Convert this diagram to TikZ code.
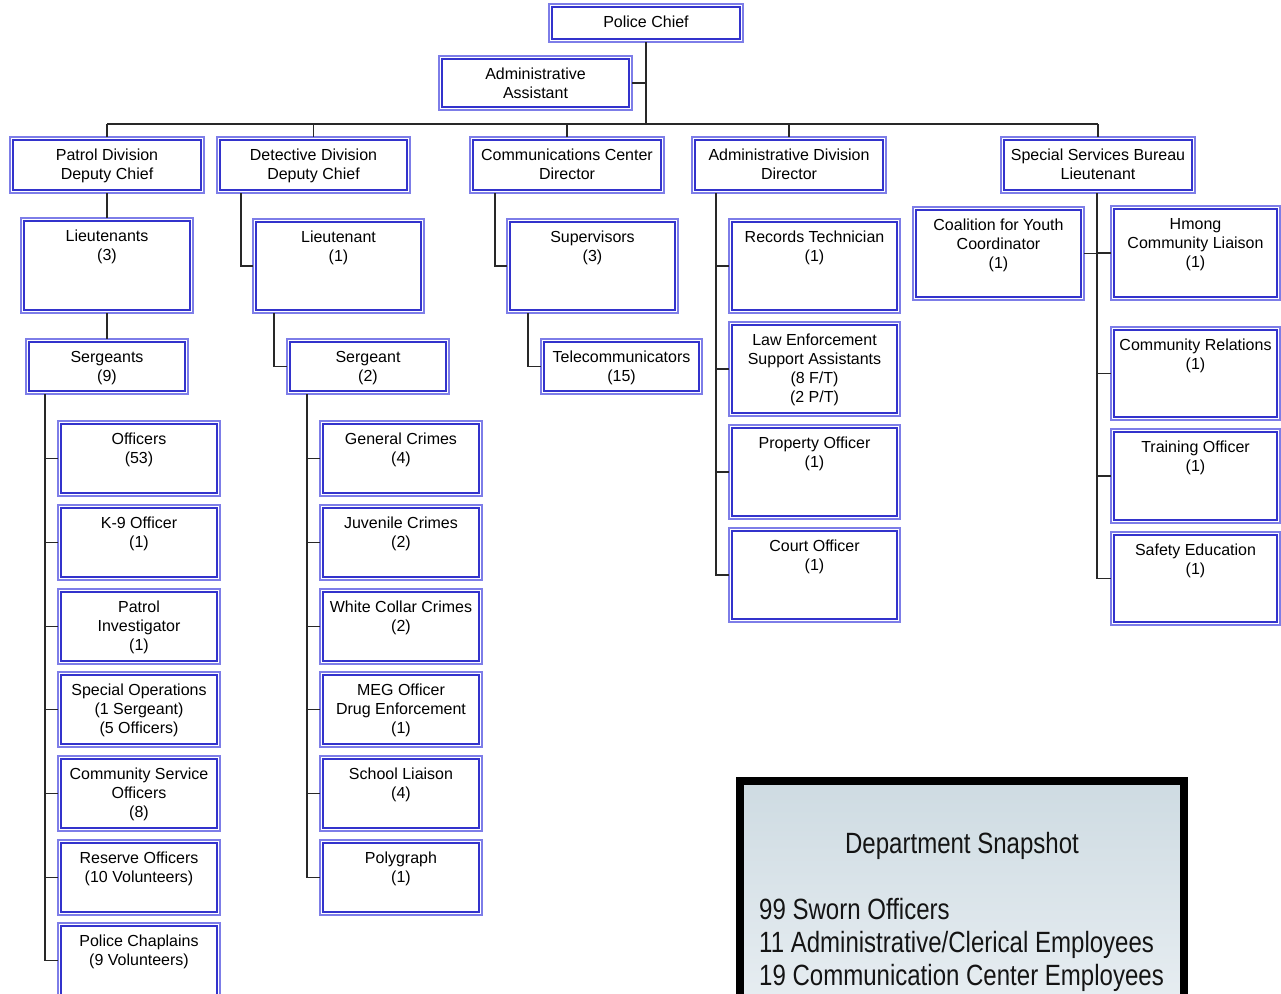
\documentclass[tikz,border=0pt]{standalone}
\usepackage{fontspec}
\setmainfont{Liberation Sans}
\newfontfamily\narrowfont[FakeStretch=0.82]{Liberation Sans}
\definecolor{outerblue}{RGB}{125,125,232}
\definecolor{innerblue}{RGB}{51,51,204}
\definecolor{snaptop}{RGB}{206,219,226}
\definecolor{snapbot}{RGB}{232,238,242}
\definecolor{connc}{RGB}{40,40,40}
\tikzset{
  boxo/.style={draw=outerblue, line width=1.1pt, fill=white, inner sep=0pt, outer sep=0pt, rectangle},
  boxi/.style={draw=innerblue, line width=2.2pt},
  lbl/.style={anchor=north, inner sep=0pt, align=center, font=\fontsize{16}{19}\selectfont, text=black},
  conn/.style={draw=connc, line width=1.2pt},
  snapt/.style={inner sep=0pt, font=\narrowfont\fontsize{29.3}{33}\selectfont, text={rgb,255:red,20;green,20;blue,20}}
}
\newcommand\obox[6]{%
  \node[boxo, minimum width={(#4)-(#2)}, minimum height={(#5)-(#3)}] (#1) at ({((#2)+(#4))/2},{((#3)+(#5))/2}) {};
  \draw[boxi] ([shift={(3,3)}]#1.north west) rectangle ([shift={(-3,-3)}]#1.south east);
  \node[lbl] (#1-t) at ([yshift=-11.2pt]#1.north) {\rule{0pt}{12pt}#6};
}
\begin{document}
\begin{tikzpicture}[x=1pt,y=-1pt]
\useasboundingbox (0,0) rectangle (1281,993);
% top
\obox{pc}{549}{4}{743}{42}{Police Chief}
\obox{aa}{439}{56}{632}{110}{Administrative\\Assistant}
% level 2
\obox{patrol}{10}{137}{204}{193}{Patrol Division\\Deputy Chief}
\obox{det}{217}{137}{410}{193}{Detective Division\\Deputy Chief}
\obox{comm}{470}{137}{664}{193}{Communications Center\\Director}
\obox{adm}{692}{137}{886}{193}{Administrative Division\\Director}
\obox{spec}{1001}{137}{1195}{193}{Special Services Bureau\\Lieutenant}
% patrol
\obox{lts}{21}{218}{193}{313}{Lieutenants\\(3)}
\obox{sgts}{26}{339}{188}{394}{Sergeants\\(9)}
\obox{off}{58}{421}{220}{496}{Officers\\(53)}
\obox{k9}{58}{505}{220}{580}{K-9 Officer\\(1)}
\obox{pinv}{58}{589}{220}{664}{Patrol\\Investigator\\(1)}
\obox{sops}{58}{672}{220}{747}{Special Operations\\(1 Sergeant)\\(5 Officers)}
\obox{cso}{58}{756}{220}{831}{Community Service\\Officers\\(8)}
\obox{res}{58}{840}{220}{915}{Reserve Officers\\(10 Volunteers)}
\obox{chap}{58}{923}{220}{998}{Police Chaplains\\(9 Volunteers)}
% detective
\obox{dlt}{253}{219}{424}{313}{Lieutenant\\(1)}
\obox{dsgt}{287}{339}{449}{394}{Sergeant\\(2)}
\obox{gen}{320}{421}{482}{496}{General Crimes\\(4)}
\obox{juv}{320}{505}{482}{580}{Juvenile Crimes\\(2)}
\obox{wcc}{320}{589}{482}{664}{White Collar Crimes\\(2)}
\obox{meg}{320}{672}{482}{747}{MEG Officer\\Drug Enforcement\\(1)}
\obox{sch}{320}{756}{482}{831}{School Liaison\\(4)}
\obox{poly}{320}{840}{482}{915}{Polygraph\\(1)}
% communications
\obox{sup}{507}{219}{678}{313}{Supervisors\\(3)}
\obox{tel}{541}{339}{702}{394}{Telecommunicators\\(15)}
% administrative
\obox{rec}{729}{219}{900}{313}{Records Technician\\(1)}
\obox{lesa}{729}{322}{900}{416}{Law Enforcement\\Support Assistants\\(8 F/T)\\(2 P/T)}
\obox{prop}{729}{425}{900}{519}{Property Officer\\(1)}
\obox{court}{729}{528}{900}{622}{Court Officer\\(1)}
% special services
\obox{coal}{913}{207}{1084}{300}{Coalition for Youth\\Coordinator\\(1)}
\obox{hmong}{1111}{206}{1280}{300}{Hmong\\Community Liaison\\(1)}
\obox{comrel}{1111}{327}{1280}{420}{Community Relations\\(1)}
\obox{train}{1111}{429}{1280}{523}{Training Officer\\(1)}
\obox{safety}{1111}{532}{1280}{625}{Safety Education\\(1)}
% connectors
\coordinate (bus) at (0,124);
\draw[conn] (pc.south) -- (pc.south |- bus);
\draw[conn] (aa.east) -- (aa.east -| pc.south);
\draw[conn] (patrol.north |- bus) -- (spec.north |- bus);
\foreach \n in {patrol,det,comm,adm,spec}{\draw[conn] (\n.north) -- (\n.north |- bus);}
\draw[conn] (patrol.south) -- (lts.north);
\draw[conn] (lts.south) -- (sgts.north);
\coordinate (pv) at (45,394);
\draw[conn] (pv) |- (chap.west);
\foreach \n in {off,k9,pinv,sops,cso,res}{\draw[conn] (\n.west) -- (\n.west -| pv);}
\coordinate (dv1) at (241,193);
\draw[conn] (dv1) |- (dlt.west);
\coordinate (dv2) at (274,313);
\draw[conn] (dv2) |- (dsgt.west);
\coordinate (dv3) at (307,394);
\draw[conn] (dv3) |- (poly.west);
\foreach \n in {gen,juv,wcc,meg,sch}{\draw[conn] (\n.west) -- (\n.west -| dv3);}
\coordinate (cv1) at (495,193);
\draw[conn] (cv1) |- (sup.west);
\coordinate (cv2) at (528,313);
\draw[conn] (cv2) |- (tel.west);
\coordinate (av) at (716,193);
\draw[conn] (av) |- (court.west);
\foreach \n in {rec,lesa,prop}{\draw[conn] (\n.west) -- (\n.west -| av);}
\coordinate (sv) at (1097,193);
\draw[conn] (sv) |- (safety.west);
\draw[conn] (coal.east) -- (coal.east -| sv);
\foreach \n in {hmong,comrel,train}{\draw[conn] (\n.west) -- (\n.west -| sv);}
% snapshot
\node[draw=black, line width=8pt, top color=snaptop, bottom color=snapbot, minimum width=444, minimum height=232, anchor=north west, inner sep=0pt, outer sep=0pt] (snap) at (740,781) {};
\node[snapt, anchor=base] (snapttl) at (962,853) {Department Snapshot};
\node[snapt, anchor=base west] (s1) at (759,919) {99 Sworn Officers};
\node[snapt, anchor=base west] (s2) at (759,952) {11 Administrative/Clerical Employees};
\node[snapt, anchor=base west] (s3) at (759,985) {19 Communication Center Employees};
\end{tikzpicture}
\end{document}
